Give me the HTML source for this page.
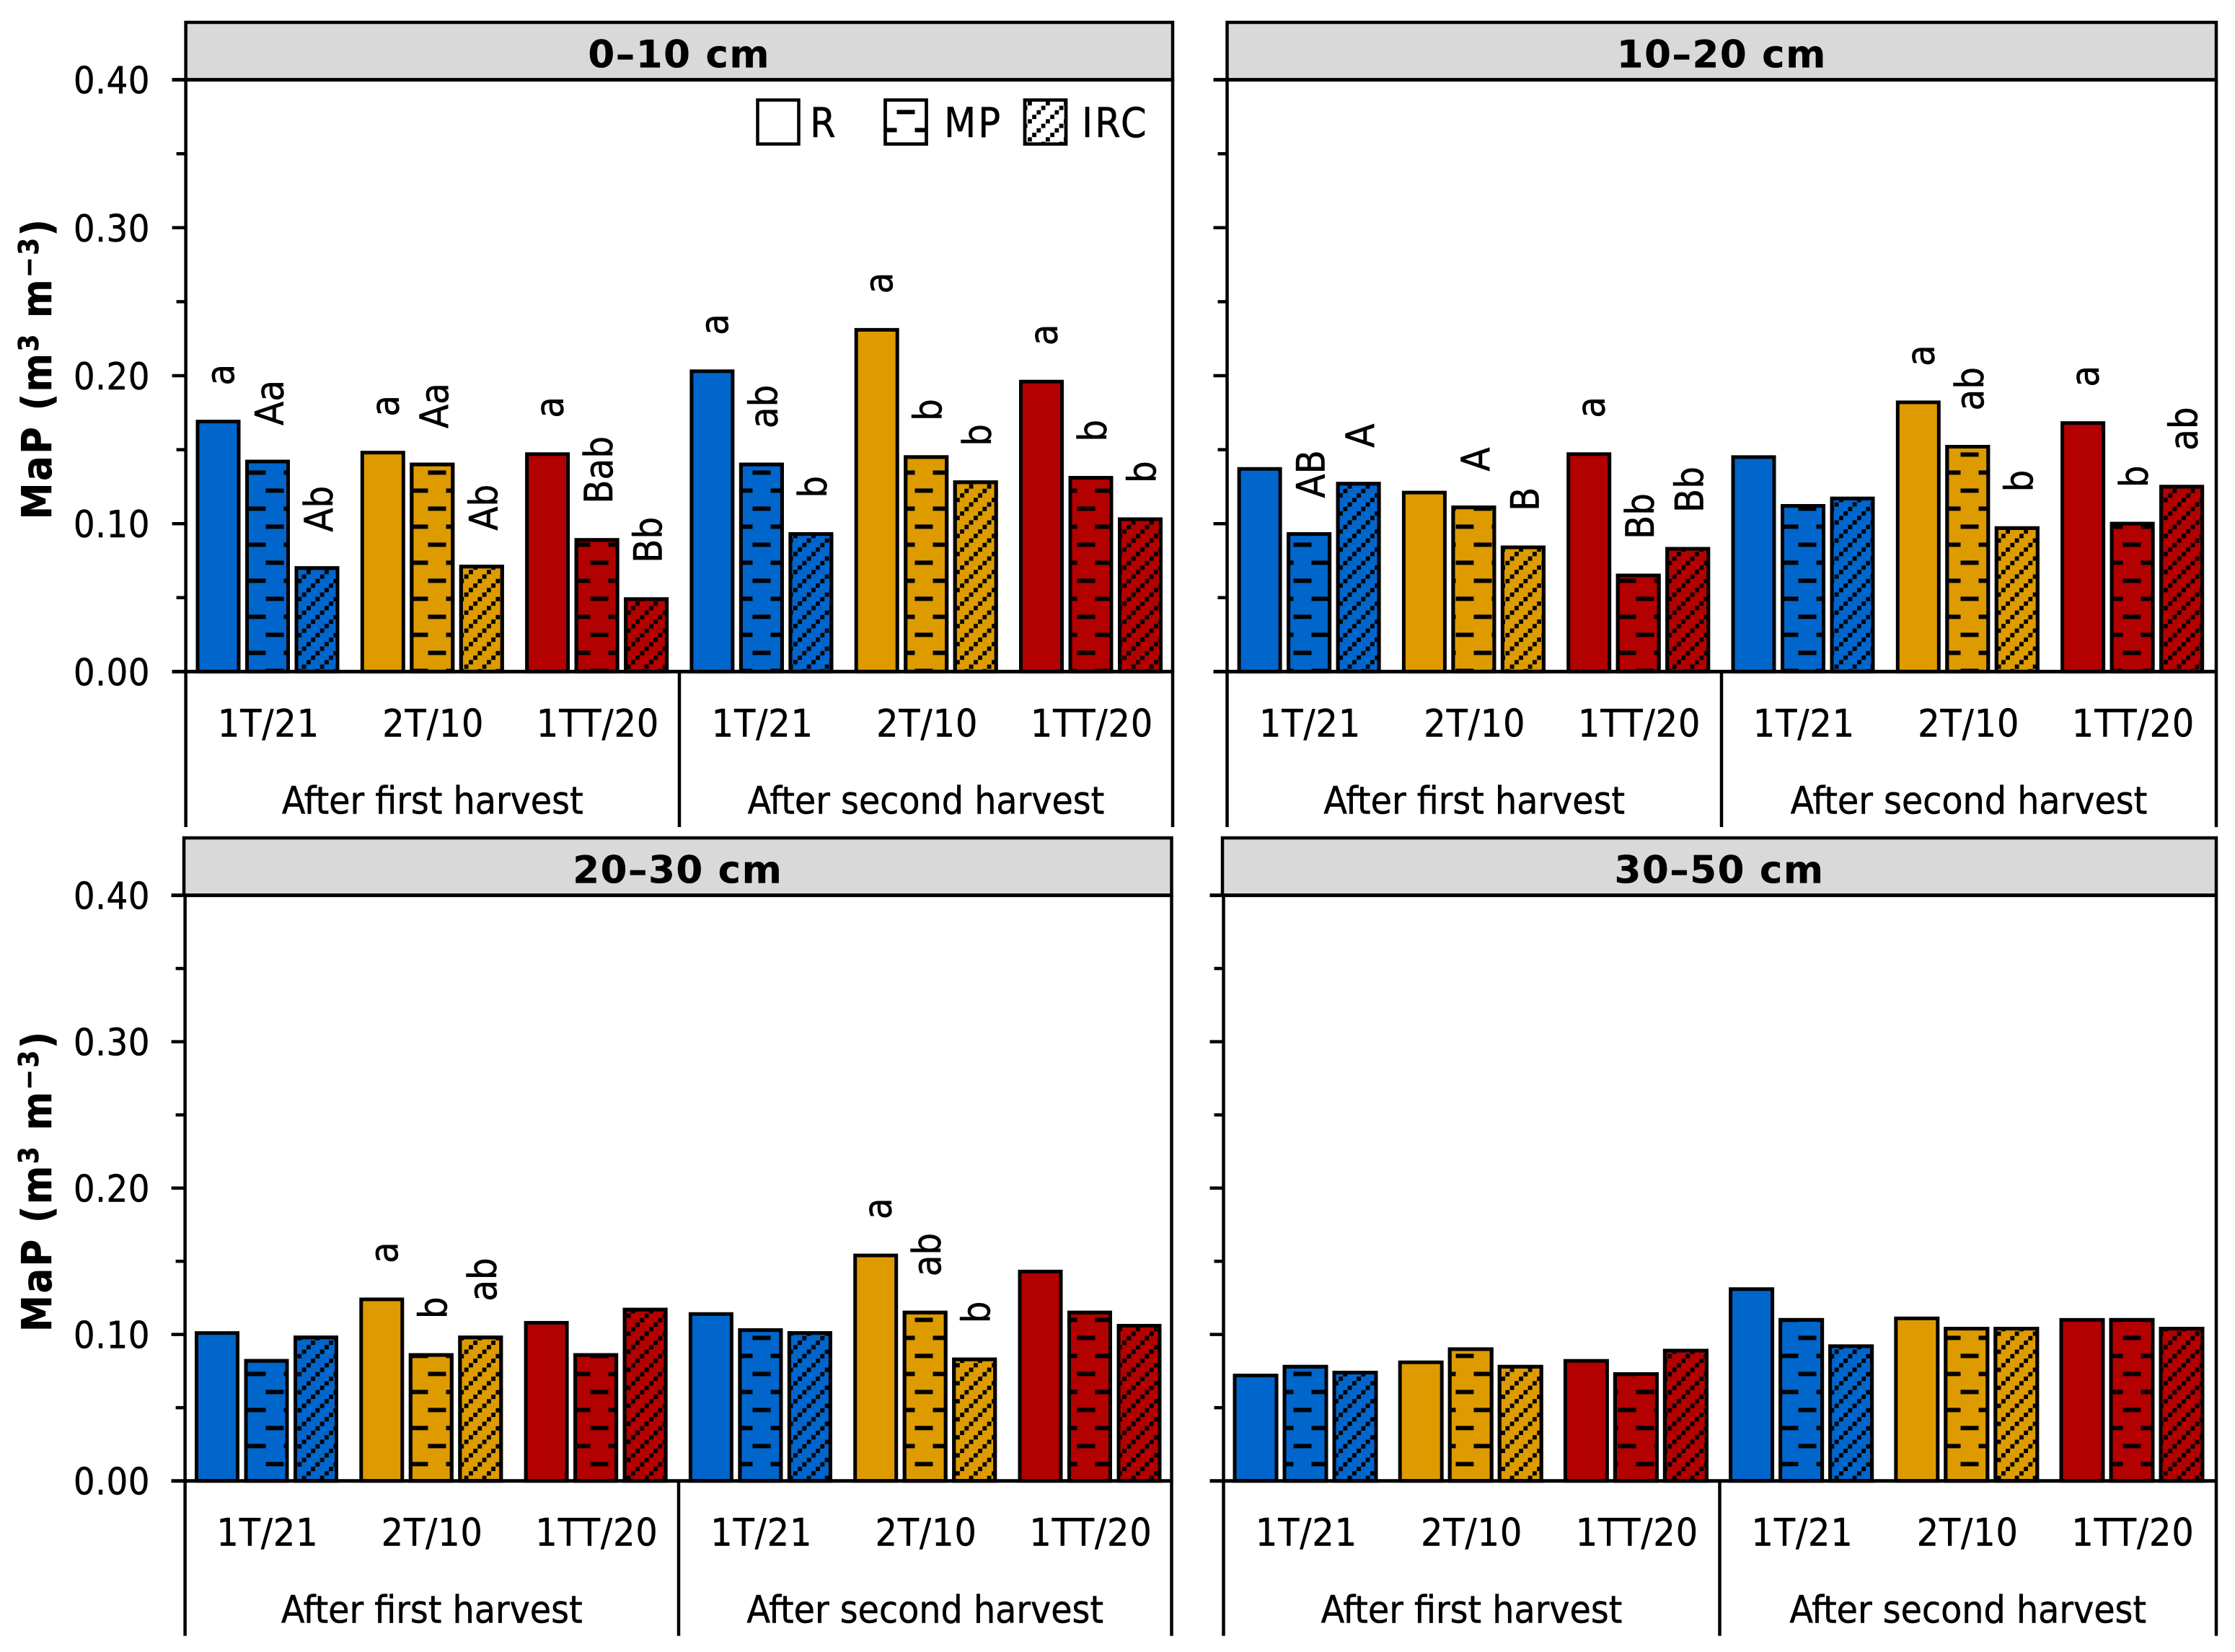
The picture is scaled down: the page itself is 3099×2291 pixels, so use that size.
<!DOCTYPE html>
<html lang="en">
<head>
<meta charset="utf-8">
<title>MaP by soil depth</title>
<style>
html,body{margin:0;padding:0;background:#fff;width:3099px;height:2291px;overflow:hidden}
svg{display:block}
text{font-family:"DejaVu Sans Condensed","DejaVu Sans","Liberation Sans",sans-serif;font-stretch:condensed;fill:#000;stroke:#000;stroke-width:.5px}
.bold{font-family:"DejaVu Sans","Liberation Sans",sans-serif;font-stretch:normal;font-weight:bold;stroke-width:.3px;letter-spacing:1.5px}
.ytitle{font-family:"DejaVu Sans Condensed","DejaVu Sans","Liberation Sans",sans-serif;font-stretch:condensed;font-weight:bold;letter-spacing:2.5px}
.cat{letter-spacing:1px}
.ytick{letter-spacing:.5px}
</style>
</head>
<body>
<svg id="chart" xmlns="http://www.w3.org/2000/svg" width="3099" height="2291" viewBox="0 0 3099 2291">
  <defs>
    <pattern id="pat-mp" patternUnits="userSpaceOnUse" width="50" height="50">
      <rect x="0" y="2.4" width="18.5" height="6" fill="#000"/>
      <rect x="43.5" y="2.4" width="6.5" height="6" fill="#000"/>
      <rect x="18.5" y="27.4" width="25" height="6" fill="#000"/>
    </pattern>
    <pattern id="pat-irc" patternUnits="userSpaceOnUse" width="25" height="25">
      <rect x="0" y="15.3" width="5.8" height="6" fill="#000"/>
      <rect x="6.2" y="9.1" width="5.8" height="6" fill="#000"/>
      <rect x="12.4" y="2.8" width="5.8" height="6" fill="#000"/>
      <rect x="18.7" y="21.6" width="5.8" height="3.4" fill="#000"/>
      <rect x="18.7" y="0" width="5.8" height="2.6" fill="#000"/>
    </pattern>
  </defs>
</svg>
<script>
const categories = ['1T/21', '2T/10', '1TT/20', '1T/21', '2T/10', '1TT/20'];
const harvests = ['After first harvest', 'After second harvest'];
const depths = ['0–10 cm', '10–20 cm', '20–30 cm', '30–50 cm'];
const seriesNames = ['R', 'MP', 'IRC'];
const yTickValues = [0, 0.05, 0.10, 0.15, 0.20, 0.25, 0.30, 0.35, 0.40];
const yTickLabels = ['0.00', '', '0.10', '', '0.20', '', '0.30', '', '0.40'];

const r_0_10 = [0.169, 0.148, 0.147, 0.203, 0.231, 0.196];
const mp_0_10 = [0.142, 0.140, 0.089, 0.140, 0.145, 0.131];
const irc_0_10 = [0.070, 0.071, 0.049, 0.093, 0.128, 0.103];
const sig_r_0_10 = ['a', 'a', 'a', 'a', 'a', 'a'];
const sig_mp_0_10 = ['Aa', 'Aa', 'Bab', 'ab', 'b', 'b'];
const sig_irc_0_10 = ['Ab', 'Ab', 'Bb', 'b', 'b', 'b'];

const r_10_20 = [0.137, 0.121, 0.147, 0.145, 0.182, 0.168];
const mp_10_20 = [0.093, 0.111, 0.065, 0.112, 0.152, 0.100];
const irc_10_20 = [0.127, 0.084, 0.083, 0.117, 0.097, 0.125];
const sig_r_10_20 = ['', '', 'a', '', 'a', 'a'];
const sig_mp_10_20 = ['AB', 'A', 'Bb', '', 'ab', 'b'];
const sig_irc_10_20 = ['A', 'B', 'Bb', '', 'b', 'ab'];

const r_20_30 = [0.101, 0.124, 0.108, 0.114, 0.154, 0.143];
const mp_20_30 = [0.082, 0.086, 0.086, 0.103, 0.115, 0.115];
const irc_20_30 = [0.098, 0.098, 0.117, 0.101, 0.083, 0.106];
const sig_r_20_30 = ['', 'a', '', '', 'a', ''];
const sig_mp_20_30 = ['', 'b', '', '', 'ab', ''];
const sig_irc_20_30 = ['', 'ab', '', '', 'b', ''];

const r_30_50 = [0.072, 0.081, 0.082, 0.131, 0.111, 0.110];
const mp_30_50 = [0.078, 0.090, 0.073, 0.110, 0.104, 0.110];
const irc_30_50 = [0.074, 0.078, 0.089, 0.092, 0.104, 0.104];
const sig_r_30_50 = ['', '', '', '', '', ''];
const sig_mp_30_50 = ['', '', '', '', '', ''];
const sig_irc_30_50 = ['', '', '', '', '', ''];

const panelValues = [
  [r_0_10, mp_0_10, irc_0_10],
  [r_10_20, mp_10_20, irc_10_20],
  [r_20_30, mp_20_30, irc_20_30],
  [r_30_50, mp_30_50, irc_30_50]
];
const panelSig = [
  [sig_r_0_10, sig_mp_0_10, sig_irc_0_10],
  [sig_r_10_20, sig_mp_10_20, sig_irc_10_20],
  [sig_r_20_30, sig_mp_20_30, sig_irc_20_30],
  [sig_r_30_50, sig_mp_30_50, sig_irc_30_50]
];

const cultivarColor = ['#0066cc', '#de9b00', '#b30000'];
const patternFor = ['', 'url(#pat-mp)', 'url(#pat-irc)'];

const frames = [
  {axisX: 257.6, right: 1626, stripL: 257.6, top: 31, yTop: 110.6, yZero: 931.4, divider: 942, bottom: 1147, barX0: 271.5, group: 228.3, bar: 68.5, barW: 62, labels: true},
  {axisX: 1701.5, right: 3073, stripL: 1701.5, top: 31, yTop: 110.6, yZero: 931.4, divider: 2387, bottom: 1147, barX0: 1715.6, group: 228.3, bar: 68.5, barW: 62, labels: false},
  {axisX: 256.6, right: 1624.5, stripL: 255, top: 1162, yTop: 1241.6, yZero: 2053.7, divider: 941, bottom: 2268.6, barX0: 270, group: 228.3, bar: 68.5, barW: 62, labels: true},
  {axisX: 1696.5, right: 3073, stripL: 1695, top: 1162, yTop: 1241.6, yZero: 2053.7, divider: 2384.5, bottom: 2268.6, barX0: 1709.5, group: 229.2, bar: 69, barW: 63, labels: false}
];

const yMax = 0.40;
const svgNS = 'http://www.w3.org/2000/svg';
const svg = document.getElementById('chart');

function mk(tag, attrs, parent) {
  const el = document.createElementNS(svgNS, tag);
  for (const k in attrs) el.setAttribute(k, attrs[k]);
  (parent || svg).appendChild(el);
  return el;
}
function line(x1, y1, x2, y2, w, parent) {
  return mk('line', {x1: x1, y1: y1, x2: x2, y2: y2, stroke: '#000', 'stroke-width': w}, parent);
}
function txt(content, x, y, size, anchor, parent) {
  const el = mk('text', {x: x, y: y, 'font-size': size, 'text-anchor': anchor}, parent);
  el.textContent = content;
  return el;
}

frames.forEach(function (f, p) {
  const yScale = function (v) { return f.yZero - (v / yMax) * (f.yZero - f.yTop); };
  const barLeft = function (g, s) { return f.barX0 + g * f.group + s * f.bar; };
  const catCenter = function (g) { return barLeft(g, 1) + f.barW / 2 + 1.5; };

  const panel = mk('g', {}, svg);
  
  

  const strip = mk('rect', {x: f.stripL, y: f.top, width: f.right - f.stripL, height: f.yTop - f.top, fill: '#d9d9d9', stroke: '#000', 'stroke-width': 4.5}, panel);
  
  

  const title = txt(depths[p], (f.stripL + f.right) / 2, f.yTop - 17, 53, 'middle', panel);
  title.setAttribute('class', 'bold');
  
  

  const yAxis = line(f.axisX, f.yTop, f.axisX, f.bottom, 4.5, panel);
  
  

  const rightEdge = line(f.right, f.yTop, f.right, f.bottom, 4.5, panel);
  
  

  const divider = line(f.divider, f.yZero, f.divider, f.bottom, 4.5, panel);
  
  

  yTickValues.forEach(function (v, i) {
    const major = yTickLabels[i] !== '';
    const tick = line(f.axisX - (major ? 19 : 13), yScale(v), f.axisX, yScale(v), 4.5, panel);
    
    
    if (major && f.labels) {
      const lab = txt(yTickLabels[i], 208, yScale(v) + 19, 52, 'end', panel);
      lab.setAttribute('class', 'ytick');
      
      
    }
  });

  categories.forEach(function (cat, g) {
    const color = cultivarColor[g % 3];
    seriesNames.forEach(function (s, si) {
      const val = panelValues[p][si][g];
      const x = barLeft(g, si);
      const yTopBar = yScale(val);
      const fillRect = mk('rect', {x: x + 2.5, y: yTopBar, width: f.barW - 5, height: f.yZero - yTopBar, fill: color, stroke: '#000', 'stroke-width': 5}, panel);
      
      
      if (patternFor[si]) {
        const hatch = mk('rect', {x: x + 2.5, y: yTopBar, width: f.barW - 5, height: f.yZero - yTopBar, fill: patternFor[si], stroke: '#000', 'stroke-width': 5}, panel);
        
        
      }
      const sig = panelSig[p][si][g];
      if (sig) {
        const bx = x + f.barW / 2 + 21.5;
        const by = yTopBar - 50;
        const sigLabel = txt(sig, bx, by, 54, 'start', panel);
        sigLabel.setAttribute('transform', 'rotate(-90 ' + bx + ' ' + by + ')');
        
        
      }
    });
    const catLabel = txt(cat, catCenter(g), f.yZero + 90, 53, 'middle', panel);
    catLabel.setAttribute('class', 'cat');
    
    
  });

  harvests.forEach(function (h, i) {
    const cx = i === 0 ? (f.axisX + f.divider) / 2 : (f.divider + f.right) / 2;
    const hl = txt(h, cx, f.yZero + 197, 53, 'middle', panel);
    
    
  });

  const xAxis = line(f.axisX - 19, f.yZero, f.right, f.yZero, 5, panel);
  
  

  const stripLine = line(f.axisX - 19, f.yTop, f.right, f.yTop, 5, panel);
  
  

  if (f.labels) {
    const cy = (f.yTop + f.yZero) / 2 - 10;
    const t = mk('text', {x: 71, y: cy, 'font-size': 57, 'text-anchor': 'middle', class: 'ytitle', transform: 'rotate(-90 71 ' + cy + ')'}, panel);
    
    
    t.appendChild(document.createTextNode('MaP (m'));
    const s1 = mk('tspan', {dy: -18, 'font-size': 38}, t);
    s1.textContent = '3';
    const m2 = mk('tspan', {dy: 18}, t);
    m2.textContent = ' m';
    const s2 = mk('tspan', {dy: -18, 'font-size': 38}, t);
    s2.textContent = '−3';
    const m3 = mk('tspan', {dy: 18}, t);
    m3.textContent = ')';
  }
});

const legend = mk('g', {}, svg);


const legendBoxLeft = [1048.5, 1225.5, 1419];
const legendTextLeft = [1123, 1309, 1500];
seriesNames.forEach(function (s, i) {
  const box = mk('rect', {x: legendBoxLeft[i] + 2, y: 138.7, width: 57, height: 61, fill: '#fff', stroke: '#000', 'stroke-width': 4.5}, legend);
  
  
  if (patternFor[i]) {
    const h = mk('rect', {x: legendBoxLeft[i] + 2, y: 138.7, width: 57, height: 61, fill: patternFor[i], stroke: '#000', 'stroke-width': 4.5}, legend);
    
    
  }
  const lt = txt(s, legendTextLeft[i], 190, 57, 'start', legend);
  lt.setAttribute('style', 'letter-spacing:3px');
  
  
});
</script>
</body>
</html>
